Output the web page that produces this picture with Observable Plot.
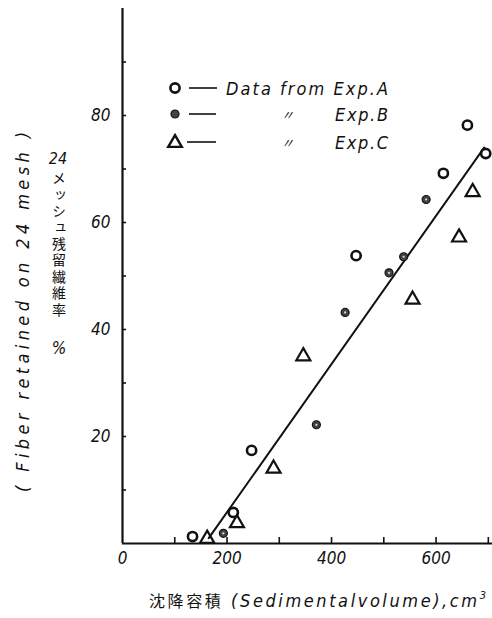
<!DOCTYPE html>
<html>
<head>
<meta charset="utf-8">
<script src="https://cdn.jsdelivr.net/npm/d3@7"></script>
<script src="https://cdn.jsdelivr.net/npm/@observablehq/plot@0.6"></script>
<style>
  html, body { margin: 0; padding: 0; background: #fff; }
  #chart { position: relative; width: 492px; height: 618px; }
</style>
</head>
<body>
<div id="chart"></div>
<script>
// ---- data ----
const expA_x = [134, 212, 247, 447, 614, 660, 695];
const expA_y = [1.3, 5.8, 17.4, 53.8, 69.2, 78.2, 72.9];
const expB_x = [193, 371, 426, 510, 538, 581];
const expB_y = [1.9, 22.2, 43.2, 50.6, 53.6, 64.3];
const expC_x = [162, 219, 289, 346, 555, 644, 670];
const expC_y = [0.9, 3.8, 14.0, 35.0, 45.6, 57.2, 65.7];
const fit_x = [165, 692];
const fit_y = [1.0, 74.0];

const xTickLabels = [0, 200, 400, 600];
const xMinorTicks = [100, 200, 300, 400, 500, 600, 700];
const yTickLabels = [20, 40, 60, 80];
const yMinorTicks = [10, 20, 30, 40, 50, 60, 70, 80, 90];

const legendLabels = ["Data from Exp.A", "Exp.B", "Exp.C"];
const yTitleEn = "( Fiber retained on 24 mesh )";
const yTitleJaNum = "24";
const yTitleJa = "メッシュ残留繊維率";
const yTitleJaUnit = "%";
const xTitleJa = "沈降容積";
const xTitleEn = "(Sedimentalvolume),cm";

const A = expA_x.map((x, i) => ({x, y: expA_y[i]}));
const B = expB_x.map((x, i) => ({x, y: expB_y[i]}));
const C = expC_x.map((x, i) => ({x, y: expC_y[i]}));
const fit = fit_x.map((x, i) => ({x, y: fit_y[i]}));

const NARROW = "'Liberation Sans Narrow', 'DejaVu Sans Condensed', 'Liberation Sans', sans-serif";
const CJK = "'Noto Sans CJK JP', 'Noto Sans CJK SC', sans-serif";

const chart = Plot.plot({
  width: 492,
  height: 618,
  marginLeft: 122,
  marginRight: 0,
  marginTop: 8,
  marginBottom: 75,
  style: {fontFamily: NARROW, fontStyle: "italic", fontSize: "17px", color: "#111", background: "#fff"},
  x: {domain: [0, 708], axis: null},
  y: {domain: [0, 100], axis: null},
  marks: [
    // inward minor ticks
    Plot.axisX({ticks: xMinorTicks, tickSize: -6, tickFormat: () => "", label: null, strokeWidth: 1.6}),
    Plot.axisY({ticks: yMinorTicks, tickSize: -4, tickFormat: () => "", label: null, strokeWidth: 1.6}),
    // labels
    Plot.axisX({ticks: xTickLabels, tickSize: 0, tickPadding: 8, label: null, tickFormat: d => String(d)}),
    Plot.axisY({ticks: yTickLabels, tickSize: 0, tickPadding: 12, label: null, tickFormat: d => String(d)}),
    // axis lines
    Plot.ruleX([0], {strokeWidth: 2.2, stroke: "#111"}),
    Plot.ruleY([0], {strokeWidth: 2.2, stroke: "#111"}),
    // fitted line
    Plot.line(fit, {x: "x", y: "y", stroke: "#111", strokeWidth: 2}),
    // data
    Plot.dot(A, {x: "x", y: "y", r: 4.6, stroke: "#111", strokeWidth: 2.6, fill: "none"}),
    Plot.dot(B, {x: "x", y: "y", r: 4, stroke: "#111", strokeWidth: 1.2, fill: "#444"}),
    Plot.dot(B, {x: "x", y: "y", r: 1.1, fill: "#ddd"}),
    Plot.dot(C, {x: "x", y: "y", symbol: "triangle", r: 5.2, stroke: "#111", strokeWidth: 2.2, fill: "none"})
  ]
});

document.getElementById("chart").appendChild(chart);

// ---- annotations: titles and legend ----
const svg = d3.select(chart);
const ann = svg.append("g").attr("fill", "#111").attr("text-anchor", "start");

// y title, English (rotated)
ann.append("text")
  .attr("transform", "translate(22,312) rotate(-90)")
  .attr("text-anchor", "middle")
  .attr("dominant-baseline", "central")
  .attr("font-family", NARROW).attr("font-style", "italic").attr("font-size", 18)
  .attr("textLength", 360).attr("lengthAdjust", "spacing")
  .text(yTitleEn);

// y title, Japanese (vertical, upright)
ann.append("text")
  .attr("x", 58).attr("y", 158)
  .attr("text-anchor", "middle").attr("dominant-baseline", "central")
  .attr("font-family", NARROW).attr("font-style", "italic").attr("font-size", 16)
  .text(yTitleJaNum);
ann.append("text")
  .attr("x", 59).attr("y", 171)
  .attr("text-anchor", "start")
  .attr("font-family", CJK).attr("font-size", 14).attr("font-style", "normal")
  .attr("letter-spacing", 2.4)
  .style("writing-mode", "vertical-rl")
  .style("text-orientation", "upright")
  .text(yTitleJa);
ann.append("text")
  .attr("x", 59).attr("y", 348)
  .attr("text-anchor", "middle").attr("dominant-baseline", "central")
  .attr("font-family", NARROW).attr("font-style", "italic").attr("font-size", 17)
  .text(yTitleJaUnit);

// x title
const xt = ann.append("text")
  .attr("x", 149).attr("y", 607)
  .attr("text-anchor", "start")
  .attr("textLength", 337).attr("lengthAdjust", "spacing");
xt.append("tspan").attr("font-family", CJK).attr("font-size", 16).attr("font-style", "normal").text(xTitleJa);
xt.append("tspan").attr("font-family", NARROW).attr("font-style", "italic").attr("font-size", 18).text(" " + xTitleEn);
xt.append("tspan").attr("font-family", NARROW).attr("font-style", "italic").attr("font-size", 11).attr("dy", -8).text("3");

// legend
const lg = ann.append("g");
const legRows = [88, 114, 142];
lg.append("circle").attr("cx", 175).attr("cy", legRows[0]).attr("r", 4.6)
  .attr("fill", "none").attr("stroke", "#111").attr("stroke-width", 2.6);
lg.append("circle").attr("cx", 175).attr("cy", legRows[1]).attr("r", 4)
  .attr("fill", "#444").attr("stroke", "#111").attr("stroke-width", 1.2);
lg.append("path").attr("transform", `translate(175,${legRows[2] + 1})`)
  .attr("d", d3.symbol(d3.symbolTriangle, 80)())
  .attr("fill", "none").attr("stroke", "#111").attr("stroke-width", 2.4);
[[189, 217], [189, 216], [187, 216]].forEach(([a, b], i) => {
  lg.append("line").attr("x1", a).attr("x2", b).attr("y1", legRows[i]).attr("y2", legRows[i])
    .attr("stroke", "#111").attr("stroke-width", 1.6);
});
lg.append("text").attr("x", 226).attr("y", legRows[0]).attr("dominant-baseline", "central")
  .attr("text-anchor", "start")
  .attr("font-family", NARROW).attr("font-style", "italic").attr("font-size", 18)
  .attr("textLength", 162).attr("lengthAdjust", "spacing").text(legendLabels[0]);
[1, 2].forEach(i => {
  lg.append("text").attr("x", 281).attr("y", legRows[i]).attr("dominant-baseline", "central")
    .attr("text-anchor", "start")
    .attr("font-family", CJK).attr("font-size", 13).text("〃");
  lg.append("text").attr("x", 335).attr("y", legRows[i]).attr("dominant-baseline", "central")
    .attr("text-anchor", "start")
    .attr("font-family", NARROW).attr("font-style", "italic").attr("font-size", 18)
    .attr("textLength", 53).attr("lengthAdjust", "spacing").text(legendLabels[i]);
});
</script>
</body>
</html>
